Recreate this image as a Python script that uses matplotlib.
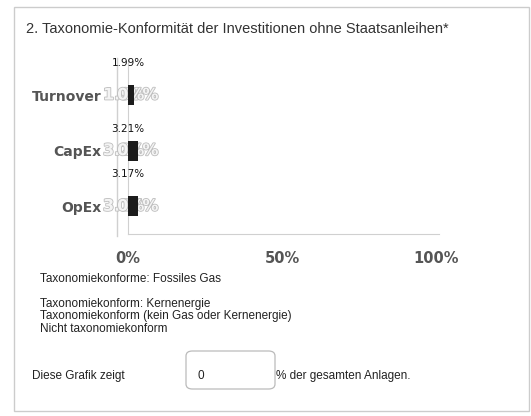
import matplotlib
matplotlib.use("Agg")
import matplotlib.pyplot as plt
import matplotlib.patheffects as pe
from matplotlib.patches import FancyBboxPatch, Rectangle
from matplotlib.lines import Line2D

# ---- data ----
categories = ["Turnover", "CapEx", "OpEx"]
values = [1.99, 3.21, 3.17]
value_labels = ["1.99%", "3.21%", "3.17%"]
xticks = [0, 50, 100]
xtick_labels = ["0%", "50%", "100%"]
legend_items = [
    "Taxonomiekonforme: Fossiles Gas",
    "Taxonomiekonform: Kernenergie",
    "Taxonomiekonform (kein Gas oder Kernenergie)",
    "Nicht taxonomiekonform",
]
title = "2. Taxonomie-Konformität der Investitionen ohne Staatsanleihen*"
share_value = "0"

W, H = 531, 416
fig = plt.figure(figsize=(W / 100, H / 100), dpi=100)
fig.patch.set_facecolor("white")

def fx(px):
    return px / W

def fy(py):
    return 1 - py / H

# card frame
fig.patches.append(Rectangle((fx(14), fy(411)), fx(515), 404 / H, transform=fig.transFigure,
                             facecolor="white", edgecolor="#cccccc", linewidth=1.0, zorder=-10))

# title
fig.text(fx(26), fy(29), title, fontsize=10.5, family="Liberation Sans", color="#333333",
         va="center", ha="left")

# axes
ax_left, ax_right = 128, 436
ax_top, ax_bottom = 60, 234
ax = fig.add_axes([fx(ax_left), fy(ax_bottom), fx(ax_right - ax_left), (ax_bottom - ax_top) / H])
ax.set_zorder(2)
ax.set_facecolor("none")
ax.set_xlim(0, 100)
ax.set_ylim(2.5, -0.63)
ypos = list(range(len(categories)))
ax.barh(ypos, values, height=0.36, color="#1c1c1c", left=0, zorder=6)

for s in ["top", "right"]:
    ax.spines[s].set_visible(False)
ax.spines["left"].set_color("#d0d0d0")
ax.spines["bottom"].set_color("#d0d0d0")
ax.spines["bottom"].set_bounds(0, 101)
ax.set_xticks(xticks)
ax.set_xticklabels(xtick_labels, fontsize=10.5, fontweight="bold", color="#555555",
                   family="DejaVu Sans")
ax.tick_params(axis="x", length=0, pad=12)
ax.set_yticks(ypos)
ax.set_yticklabels(categories, fontsize=10, fontweight="bold", color="#555555",
                   family="DejaVu Sans")
ax.tick_params(axis="y", length=0, pad=19)

# second thin vertical line left of axis
fig.add_artist(Line2D([fx(117), fx(117)], [fy(236), fy(58)], color="#d0d0d0", linewidth=1.0))

label_dy = [32, 22, 32]
outline = [pe.withStroke(linewidth=1.2, foreground="#bdbdbd")]
for i, (v, lab) in enumerate(zip(values, value_labels)):
    ax.annotate(lab, xy=(0, i), xytext=(0, label_dy[i] * 0.72), textcoords="offset points",
                ha="center", va="center", fontsize=7.5, color="#111111", family="DejaVu Sans",
                zorder=7, annotation_clip=False)
    for t in (lab, "0%"):
        ax.annotate(t, xy=(0, i), xytext=(2, 0), textcoords="offset points",
                    ha="center", va="center", fontsize=11.5, fontweight="bold",
                    color="#f4f4f4", family="DejaVu Sans", path_effects=outline, zorder=4,
                    annotation_clip=False)

# legend text
leg_y = [279, 304, 316, 329]
for t, yy in zip(legend_items, leg_y):
    fig.text(fx(40), fy(yy), t, fontsize=8.5, family="Liberation Sans", color="#222222",
             va="center", ha="left")

# bottom line
fig.text(fx(32), fy(376), "Diese Grafik zeigt", fontsize=8.5, family="Liberation Sans",
         color="#222222", va="center")
box = FancyBboxPatch((fx(186), fy(389)), fx(89), 38 / H, transform=fig.transFigure,
                     boxstyle="round,pad=0,rounding_size=0.012", facecolor="white",
                     edgecolor="#bbbbbb", linewidth=0.9)
fig.patches.append(box)
fig.text(fx(198), fy(376), share_value, fontsize=8.5, family="Liberation Sans",
         color="#222222", va="center")
fig.text(fx(276), fy(376), "% der gesamten Anlagen.", fontsize=8.5, family="Liberation Sans",
         color="#222222", va="center")

fig.savefig("out.png", dpi=100, facecolor="white")
